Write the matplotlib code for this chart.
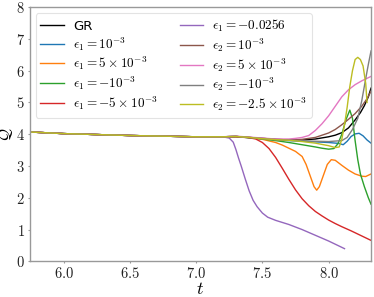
import matplotlib
matplotlib.use("Agg")
import matplotlib.pyplot as plt

plt.rcParams['mathtext.fontset'] = 'cm'
plt.rcParams['font.family'] = ['DejaVu Sans']

# shared early evolution
t_base = [5.75, 6.0, 6.25, 6.5, 6.75, 7.0, 7.2]
q_base = [4.07, 4.02, 3.99, 3.96, 3.94, 3.92, 3.92]

t_gr = [7.3, 7.4, 7.5, 7.6, 7.7, 7.8, 7.9, 8.0, 8.05, 8.1, 8.15, 8.2, 8.24, 8.27, 8.30, 8.32]
q_gr = [3.93, 3.9, 3.87, 3.84, 3.82, 3.82, 3.85, 3.92, 3.97, 4.05, 4.2, 4.45, 4.68, 4.9, 5.18, 5.45]

t_e1p1 = [7.3, 7.4, 7.5, 7.6, 7.7, 7.8, 7.9, 8.0, 8.08, 8.11, 8.14, 8.17, 8.20, 8.23, 8.26, 8.29, 8.32]
q_e1p1 = [3.93, 3.89, 3.86, 3.83, 3.8, 3.78, 3.76, 3.74, 3.71, 3.67, 3.78, 3.93, 4.01, 4.03, 3.95, 3.82, 3.72]

t_e1p5 = [7.3, 7.4, 7.5, 7.6, 7.65, 7.70, 7.75, 7.80, 7.83, 7.86, 7.89, 7.91, 7.93, 7.96, 7.99,
          8.02, 8.05, 8.10, 8.15, 8.20, 8.25, 8.28, 8.32]
q_e1p5 = [3.93, 3.9, 3.84, 3.74, 3.66, 3.56, 3.46, 3.3, 3.05, 2.7, 2.35, 2.24, 2.35, 2.7, 3.05,
          3.2, 3.18, 3.02, 2.87, 2.75, 2.68, 2.67, 2.75]

t_e1m1 = [7.3, 7.4, 7.5, 7.6, 7.7, 7.8, 7.9, 7.95, 8.0, 8.04, 8.07, 8.10, 8.13, 8.16, 8.18,
          8.20, 8.22, 8.24, 8.27, 8.30, 8.32]
q_e1m1 = [3.93, 3.89, 3.85, 3.8, 3.74, 3.67, 3.6, 3.56, 3.53, 3.55, 3.7, 4.0, 4.45, 4.76, 4.5,
          3.8, 3.2, 2.75, 2.35, 2.0, 1.8]

t_e1m5 = [7.3, 7.4, 7.45, 7.50, 7.55, 7.60, 7.65, 7.70, 7.75, 7.80, 7.85, 7.90, 7.95, 8.0,
          8.05, 8.1, 8.17, 8.25, 8.32]
q_e1m5 = [3.92, 3.89, 3.85, 3.74, 3.55, 3.27, 2.93, 2.58, 2.25, 1.97, 1.75, 1.57, 1.43, 1.30,
          1.19, 1.09, 0.96, 0.80, 0.66]

t_e1big = [7.25, 7.28, 7.30, 7.32, 7.34, 7.37, 7.40, 7.43, 7.46, 7.50, 7.54, 7.60, 7.70, 7.80,
           7.90, 8.00, 8.12]
q_e1big = [3.88, 3.75, 3.52, 3.25, 3.0, 2.6, 2.22, 1.92, 1.72, 1.52, 1.39, 1.29, 1.16, 1.0,
           0.82, 0.64, 0.40]

t_e2p1 = [7.3, 7.4, 7.5, 7.6, 7.7, 7.8, 7.9, 8.0, 8.05, 8.1, 8.15, 8.2, 8.25, 8.29, 8.32]
q_e2p1 = [3.93, 3.9, 3.87, 3.84, 3.82, 3.84, 3.9, 4.04, 4.15, 4.3, 4.47, 4.65, 4.88, 5.12, 5.35]

t_e2p5 = [7.3, 7.4, 7.5, 7.6, 7.7, 7.75, 7.8, 7.85, 7.9, 7.95, 8.0, 8.05, 8.1, 8.15, 8.2, 8.25, 8.32]
q_e2p5 = [3.94, 3.91, 3.88, 3.85, 3.85, 3.87, 3.9, 3.96, 4.12, 4.33, 4.58, 4.88, 5.18, 5.4,
          5.56, 5.68, 5.82]

t_e2m1 = [7.3, 7.4, 7.5, 7.6, 7.7, 7.8, 7.9, 8.0, 8.1, 8.14, 8.18, 8.22, 8.25, 8.28, 8.30, 8.32]
q_e2m1 = [3.93, 3.9, 3.86, 3.83, 3.81, 3.79, 3.78, 3.77, 3.8, 3.9, 4.15, 4.5, 5.05, 5.75, 6.2, 6.62]

t_e2m25 = [7.3, 7.4, 7.5, 7.6, 7.7, 7.8, 7.9, 8.0, 8.05, 8.08, 8.10, 8.12, 8.14, 8.16, 8.18,
           8.20, 8.22, 8.24, 8.26, 8.28, 8.29]
q_e2m25 = [3.93, 3.9, 3.86, 3.83, 3.81, 3.77, 3.72, 3.64, 3.58, 3.6, 3.85, 4.3, 4.85, 5.5, 6.0,
           6.35, 6.42, 6.35, 6.15, 5.6, 5.0]

labels = ['GR', r'$\epsilon_1 = 10^{-3}$', r'$\epsilon_1 = 5 \times 10^{-3}$',
          r'$\epsilon_1 = -10^{-3}$', r'$\epsilon_1 = -5 \times 10^{-3}$',
          r'$\epsilon_1 = -0.0256$', r'$\epsilon_2 = 10^{-3}$',
          r'$\epsilon_2 = 5 \times 10^{-3}$', r'$\epsilon_2 = -10^{-3}$',
          r'$\epsilon_2 = -2.5 \times 10^{-3}$']
series = [(t_gr, q_gr), (t_e1p1, q_e1p1), (t_e1p5, q_e1p5), (t_e1m1, q_e1m1),
          (t_e1m5, q_e1m5), (t_e1big, q_e1big), (t_e2p1, q_e2p1), (t_e2p5, q_e2p5),
          (t_e2m1, q_e2m1), (t_e2m25, q_e2m25)]
colors = ['black', '#1f77b4', '#ff7f0e', '#2ca02c', '#d62728', '#9467bd',
          '#8c564b', '#e377c2', '#7f7f7f', '#bcbd22']

xticks = [6.0, 6.5, 7.0, 7.5, 8.0]
yticks = [0, 1, 2, 3, 4, 5, 6, 7, 8]

fig = plt.figure(figsize=(3.74, 2.97), dpi=100)
ax = fig.add_axes([0.08, 0.12, 0.912, 0.856])

for (ts, qs), lab, c in zip(series, labels, colors):
    ax.plot(t_base + ts, q_base + qs, color=c, lw=1.0, label=lab)

ax.set_xlim(5.745, 8.32)
ax.set_ylim(0, 8)
ax.set_xticks(xticks)
ax.set_xticklabels([r'$%.1f$' % v for v in xticks], fontsize=10.5)
ax.set_yticks(yticks)
ax.set_yticklabels([r'$%d$' % v for v in yticks], fontsize=10.5)
ax.tick_params(length=1.5, width=0.8, color='#999999', pad=2, labelcolor='#222222')
for s in ax.spines.values():
    s.set_color('#999999')
    s.set_linewidth(1.0)
ax.set_xlabel(r'$t$', fontsize=13, labelpad=-1)
ax.set_ylabel(r'$\mathcal{Q}$', fontsize=11.5)
ax.yaxis.set_label_coords(-0.045, 0.5)

leg = ax.legend(ncol=2, loc='upper left', fontsize=9.5, frameon=True,
                handlelength=1.75, handletextpad=0.7, columnspacing=1.7,
                labelspacing=0.17, borderaxespad=0.45, fancybox=True, borderpad=0.35)
leg.get_frame().set_edgecolor('#dddddd')
leg.get_frame().set_linewidth(0.8)

fig.savefig('out.png', dpi=100)
